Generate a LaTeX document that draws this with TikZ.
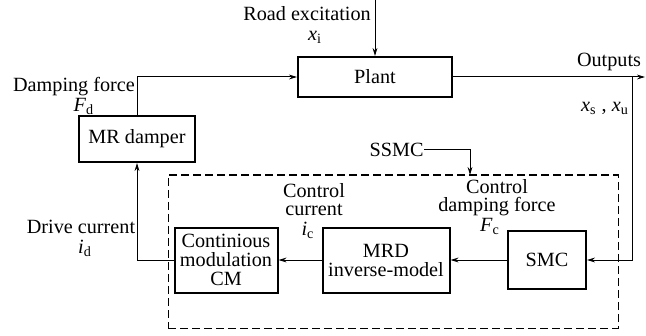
\documentclass[tikz,border=0pt]{standalone}
\usepackage{amsmath}
\usepackage{fontspec}
\setmainfont{Liberation Serif}
\usepackage{tikz}
\usetikzlibrary{positioning, arrows.meta, calc}
\newcommand{\sig}[2]{\textit{#1}\ensuremath{_{\text{#2}}}}

\begin{document}
\begin{tikzpicture}[x=0.5pt, y=-0.5pt,
  box/.style={rectangle, draw, line width=1pt, inner sep=0pt,
              align=center, font=\fontsize{10.1}{9.5}\selectfont},
  arr/.style={-{Stealth[length=4pt, width=2.4pt]}, line width=0.5pt},
  lbl/.style={inner sep=0pt, align=center, font=\fontsize{10.1}{9}\selectfont},
  dashbox/.style={draw, dashed, dash pattern=on 4pt off 2pt, line width=0.5pt,
                  inner sep=0pt}
]
  \useasboundingbox (0,0) rectangle (646,336);

  \node[box, minimum width=77pt, minimum height=20pt]   (plant)  at (375,77)  {Plant};
  \node[box, minimum width=58pt, minimum height=23pt]   (damper) at (137,139) {MR damper};
  \node[dashbox, minimum width=225pt, minimum height=76.5pt] (ctrl) at (393,251.5) {};
  \node[box, minimum width=51.5pt, minimum height=32.5pt] (cm)  at (226,260) {Continious\\modulation\\CM};
  \node[box, minimum width=63.5pt, minimum height=32.5pt] (mrd) at (386,260) {MRD\\inverse-model};
  \node[box, minimum width=39pt, minimum height=29pt]   (smc)    at (547,260) {SMC};

  \coordinate (road)    at (375,0);
  \coordinate (outend)  at (645,77);
  \coordinate (branch)  at (632,77);
  \coordinate (ssmcin)  at (470,175);

  \draw[arr] (road) -- (plant.north);
  \draw[arr] (damper.north) |- (plant.west);
  \draw[arr] (plant.east) -- (outend);
  \draw[arr] (branch) |- (smc.east);
  \draw[arr] (smc) -- (mrd);
  \draw[arr] (mrd) -- (cm);
  \draw[arr] (cm.west) -| (damper.south);

  \node[lbl] (roadlbl) at (307,25)  {Road excitation\\[1pt]\hspace*{8pt}\sig{x}{i}};
  \node[lbl] (damplbl) at (74,96)   {Damping force\\[1pt]\hspace*{10pt}\sig{F}{d}};
  \node[lbl] (outlbl)  at (609,62)  {Outputs};
  \node[lbl] (xlbl)    at (605,108) {\sig{x}{s} , \sig{x}{u}};
  \node[lbl, anchor=east] (ssmc) at (424,150) {SSMC};
  \node[lbl] (iclbl)   at (314,211) {Control\\current\\[1pt]\sig{i}{c}\hspace*{6pt}};
  \node[lbl] (fclbl)   at (497,207) {Control\\damping force\\[1pt]\sig{F}{c}\hspace*{7pt}};
  \node[lbl] (idlbl)   at (81,238)  {Drive current\\[1pt]\hspace*{4pt}\sig{i}{d}};

  \draw[arr] (ssmc.east) -| (ssmcin);
\end{tikzpicture}
\end{document}
